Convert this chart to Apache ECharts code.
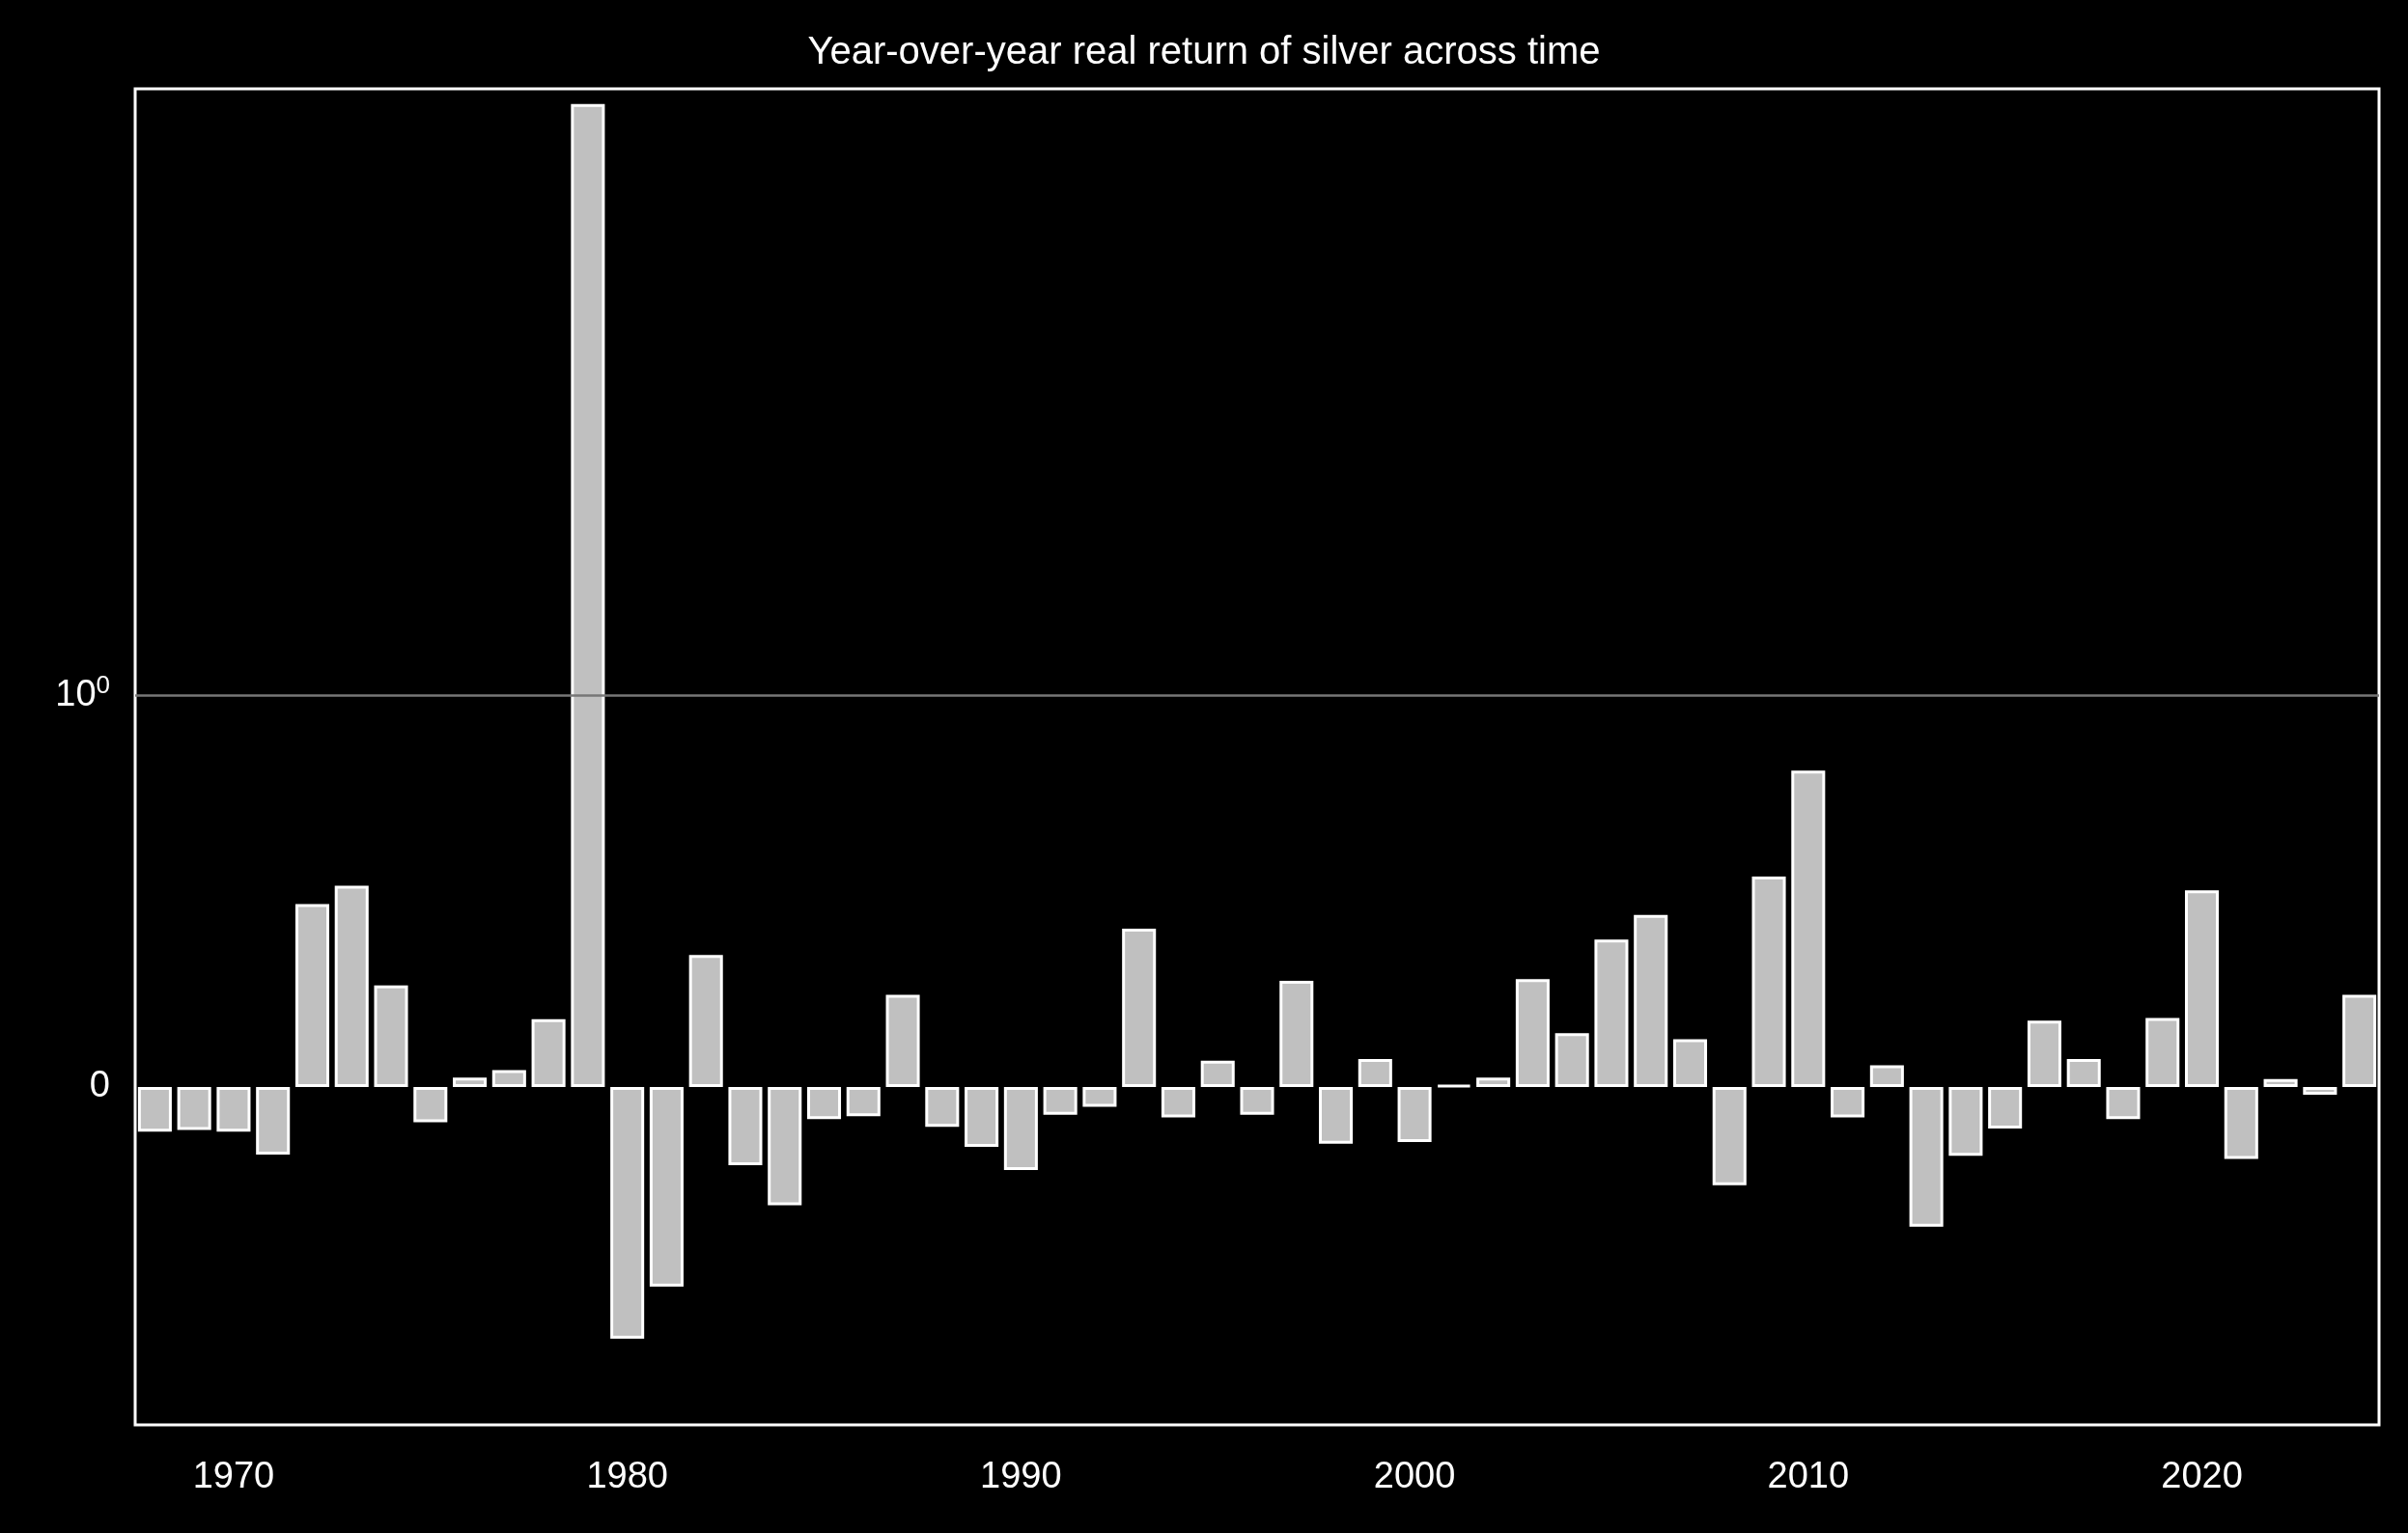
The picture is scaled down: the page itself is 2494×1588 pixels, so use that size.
<!DOCTYPE html>
<html><head><meta charset="utf-8">
<script src="https://cdn.jsdelivr.net/npm/echarts@6/dist/echarts.min.js"></script>
<style>html,body{margin:0;background:#000}#c{width:2494px;height:1588px}</style>
</head><body><div id="c"></div>
<script>
var years = [];
for (var y = 1968; y <= 2024; y++) years.push(String(y));
var returns = [-0.114,-0.11,-0.114,-0.173,0.467,0.514,0.259,-0.09,0.024,0.043,0.173,47.6,
  -0.643,-0.51,0.337,-0.2,-0.302,-0.082,-0.075,0.235,-0.102,-0.153,-0.212,-0.071,-0.051,
  0.404,-0.078,0.067,-0.071,0.271,-0.145,0.071,-0.141,0.004,0.024,0.275,0.137,0.376,0.439,
  0.122,-0.251,0.537,0.808,-0.078,0.055,-0.357,-0.176,-0.106,0.169,0.071,-0.082,0.176,
  0.502,-0.184,0.02,-0.02,0.235];

// symlog scale, linthresh 1, linscale 1, base 10 (matplotlib style)
var LS = 1 / (1 - 1 / 10);
function symlog(v) {
  var a = Math.abs(v);
  return a <= 1 ? v * LS : Math.sign(v) * (LS + Math.log10(a));
}

var chart = echarts.init(document.getElementById('c'));
chart.setOption({
  backgroundColor: '#000',
  title: { text: 'Year-over-year real return of silver across time', left: 'center', top: 30,
    textStyle: { color: '#fff', fontSize: 40, fontWeight: 'normal', fontFamily: 'Liberation Sans' } },
  grid: { left: 140, right: 30, top: 92, bottom: 112, show: true, borderColor: '#fff', borderWidth: 3 },
  xAxis: {
    type: 'category', data: years,
    axisLine: { show: false }, axisTick: { show: false },
    axisLabel: { color: '#fff', fontSize: 38, fontFamily: 'Liberation Sans', margin: 36,
      interval: function (i, v) { return +v % 10 === 0; } }
  },
  yAxis: {
    type: 'value', min: -0.959, max: 2.832,
    splitLine: { show: false }, axisLine: { show: false }, axisTick: { show: false },
    axisLabel: {
      customValues: [0, LS], color: '#fff', fontSize: 38, fontFamily: 'Liberation Sans', margin: 26,
      formatter: function (v) { return Math.abs(v) < 1e-6 ? '0' : '{b|10}{s|0}'; },
      rich: { b: { color: '#fff', fontSize: 38, fontFamily: 'Liberation Sans' },
              s: { color: '#fff', fontSize: 26, fontFamily: 'Liberation Sans', verticalAlign: 'top', padding: [0, 0, 18, 0] } }
    }
  },
  series: [{
    type: 'bar', barCategoryGap: '14%',
    data: returns.map(symlog),
    itemStyle: { color: '#c0c0c0', borderColor: '#fff', borderWidth: 3 },
    markLine: { silent: true, symbol: 'none', label: { show: false },
      lineStyle: { color: '#777', type: 'solid', width: 2.5 }, data: [{ yAxis: LS }] },
    z: 3
  }]
});
</script></body></html>
